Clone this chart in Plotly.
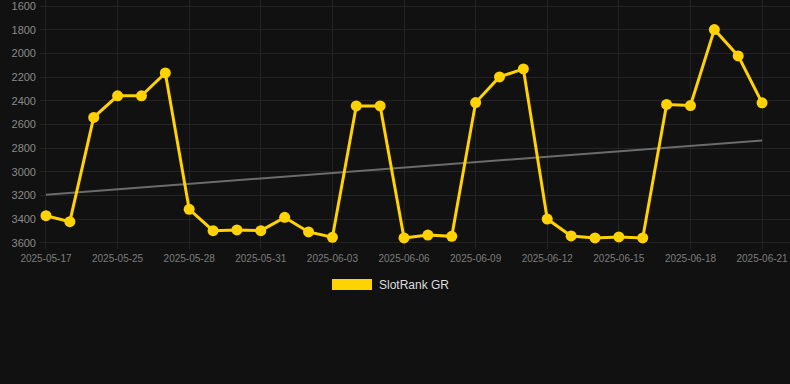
import plotly.graph_objects as go

dates = ["2025-05-17", "2025-05-23", "2025-05-24", "2025-05-25", "2025-05-26", "2025-05-27",
         "2025-05-28", "2025-05-29", "2025-05-30", "2025-05-31", "2025-06-01", "2025-06-02",
         "2025-06-03", "2025-06-04", "2025-06-05", "2025-06-06", "2025-06-07", "2025-06-08",
         "2025-06-09", "2025-06-10", "2025-06-11", "2025-06-12", "2025-06-13", "2025-06-14",
         "2025-06-15", "2025-06-16", "2025-06-17", "2025-06-18", "2025-06-19", "2025-06-20",
         "2025-06-21"]
rank = [3370, 3420, 2540, 2358, 2358, 2165, 3316, 3496, 3490, 3496, 3384, 3507, 3552,
        2443, 2443, 3558, 3533, 3544, 2415, 2198, 2131, 3398, 3541, 3558, 3549, 3558,
        2431, 2440, 1799, 2021, 2417]
trend_x = [dates[0], dates[-1]]
trend_y = [3193, 2735]
tick_dates = dates[::3]
y_ticks = [1600, 1800, 2000, 2200, 2400, 2600, 2800, 3000, 3200, 3400, 3600]
series_name = "SlotRank GR"

BG = "#111111"
GOLD = "#FFD200"

W, H = 790, 384
L, R, T, B = 40, 0, 0, 135
plot_h = H - T - B

fig = go.Figure()
fig.add_trace(go.Scatter(
    x=trend_x, y=trend_y, mode="lines",
    line=dict(color="#6b6b6b", width=2), showlegend=False, hoverinfo="skip"))
fig.add_trace(go.Scatter(
    x=dates, y=rank, mode="lines+markers", name=series_name,
    line=dict(color=GOLD, width=3), marker=dict(color=GOLD, size=11),
    showlegend=False))

fig.update_layout(
    width=W, height=H,
    paper_bgcolor=BG, plot_bgcolor=BG,
    margin=dict(l=L, r=R, t=T, b=B, pad=0),
    font=dict(family="Liberation Sans, Arial, sans-serif", color="#8a8a8a"),
    xaxis=dict(
        type="category", categoryorder="array", categoryarray=dates,
        range=[-0.25, 31.17],
        tickmode="array", tickvals=tick_dates, ticktext=tick_dates,
        showgrid=True, gridcolor="#232323", gridwidth=1,
        zeroline=False, showline=False, ticks="",
        tickfont=dict(size=10, color="#7c7c7c"),
        ticklabelstandoff=2, ticklabeloverflow="allow",
    ),
    yaxis=dict(
        range=[3651, 1549], tickmode="array", tickvals=y_ticks,
        showgrid=True, gridcolor="#232323", gridwidth=1,
        zeroline=False, showline=False, ticks="",
        tickfont=dict(size=11, color="#8a8a8a"),
        ticklabelstandoff=3, ticklabeloverflow="allow",
    ),
    shapes=[dict(type="rect", xref="paper", yref="paper",
                 x0=(332 - L) / (W - L - R), x1=(372 - L) / (W - L - R),
                 y0=(H - B - 290) / plot_h, y1=(H - B - 279) / plot_h,
                 fillcolor=GOLD, line=dict(width=0))],
    annotations=[dict(text=series_name, xref="paper", yref="paper",
                      x=(377 - L) / (W - L - R), y=(H - B - 284.5) / plot_h,
                      xanchor="left", yanchor="middle", showarrow=False,
                      font=dict(size=12, color="#dddddd"))],
)

fig.write_html(
    "out.html",
    config={"displayModeBar": False},
    post_script="document.body.style.margin='0';document.body.style.background='#111111';",
)
